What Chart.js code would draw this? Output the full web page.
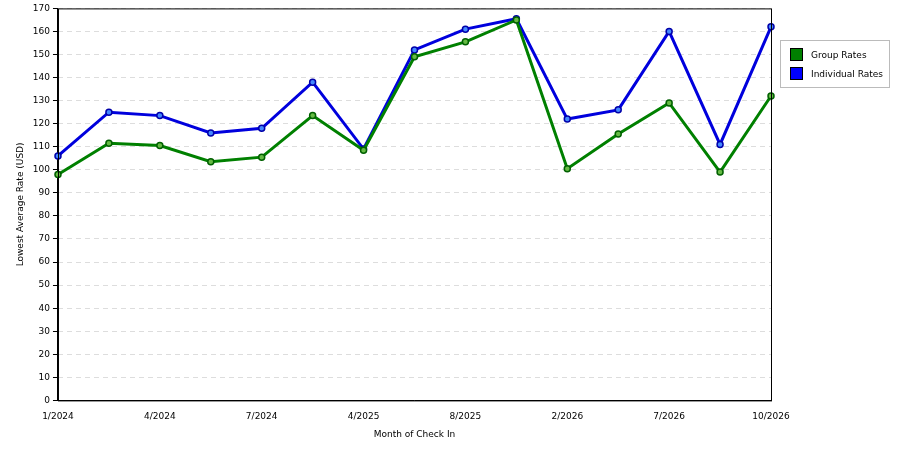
<!DOCTYPE html>
<html><head><script src="https://cdn.jsdelivr.net/npm/chart.js@4"></script>
<style>body{margin:0;background:#fff;font-family:"DejaVu Sans",sans-serif}
#wrap{position:relative;width:900px;height:450px}
#leg{position:absolute;left:780px;top:40px;width:108px;height:46px;border:1px solid #bbb;font-size:9px;padding:0}
#leg div{position:absolute;left:9px;display:flex;align-items:center}
#leg span{display:inline-block;width:11px;height:11px;border:1px solid #000;margin-right:8px}
</style></head><body><div id="wrap"><canvas id="c" width="900" height="450"></canvas>
<div id="leg"><div style="top:7px"><span style="background:#008000"></span>Group Rates</div><div style="top:26px"><span style="background:#0000ff"></span>Individual Rates</div></div></div>
<script>
const categories=["1/2024","","4/2024","","7/2024","","4/2025","","8/2025","","2/2026","","7/2026","","10/2026"];
const groupRates=[98,111.5,110.5,103.5,105.5,123.5,108.5,149,155.5,165,100.5,115.5,129,99,132];
const individualRates=[106,125,123.5,116,118,138,109,152,161,165.5,122,126,160,111,162];
const yTicks=[0,10,20,30,40,50,60,70,80,90,100,110,120,130,140,150,160,170];
const border={id:'b',afterDraw(c){const a=c.chartArea,x=c.ctx;x.save();x.strokeStyle='#000';x.lineWidth=1;x.strokeRect(a.left+.5,a.top+.5,a.right-a.left,a.bottom-a.top);x.restore();}};
new Chart(document.getElementById('c'),{type:'line',data:{labels:categories.map((l,i)=>i),datasets:[
{label:'Group Rates',data:groupRates,borderColor:'#008000',backgroundColor:'#66bb44',pointBorderColor:'#006000',borderWidth:3,pointRadius:3,pointBorderWidth:1.5,tension:0},
{label:'Individual Rates',data:individualRates,borderColor:'#0000dd',backgroundColor:'#4488ff',pointBorderColor:'#0000aa',borderWidth:3,pointRadius:3,pointBorderWidth:1.5,tension:0}]},
options:{responsive:false,animation:false,layout:{padding:{top:1,right:129,left:11,bottom:6}},plugins:{legend:{display:false},tooltip:{enabled:false}},
scales:{x:{type:'category',offset:false,grid:{display:false},border:{color:'#000'},ticks:{autoSkip:false,maxRotation:0,color:'#000',font:{size:9,family:'DejaVu Sans'},callback:(v,i)=>categories[i]},title:{display:true,text:'Month of Check In',color:'#000',font:{size:9,family:'DejaVu Sans'}}},
y:{min:0,max:170,afterBuildTicks:a=>{a.ticks=yTicks.map(v=>({value:v}))},grid:{color:'#ddd',tickLength:5,tickColor:'#000'},border:{dash:[5,4],color:'#000'},ticks:{color:'#000',font:{size:9,family:'DejaVu Sans'}},title:{display:true,text:'Lowest Average Rate (USD)',color:'#000',font:{size:9,family:'DejaVu Sans'}}}}},plugins:[border]});
</script></body></html>
